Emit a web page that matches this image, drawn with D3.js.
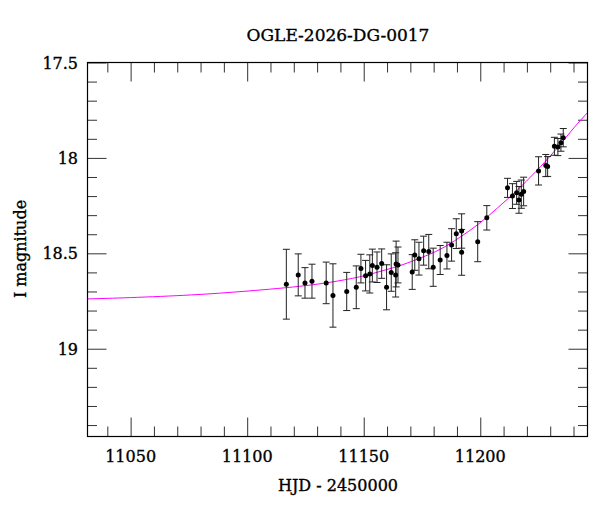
<!DOCTYPE html>
<html>
<head>
<meta charset="utf-8">
<script src="https://cdn.jsdelivr.net/npm/d3@7"></script>
<style>
  body { margin: 0; background: #fff; }
  svg { display: block; }
  text { font-family: "DejaVu Serif", "Liberation Serif", serif; fill: #000; stroke: #000; stroke-width: 0.35px; }
</style>
</head>
<body>
<svg id="chart" width="600" height="512"></svg>
<script>
// photometry points (HJD - 2450000, I mag, error)
const hjd = [11116.8, 11121.9, 11124.8, 11127.8, 11133.9, 11136.8, 11142.7, 11146.8, 11148.8, 11150.8,
  11152.6, 11153.7, 11155.7, 11157.7, 11159.8, 11161.8, 11163.7, 11163.9, 11164.7, 11170.8,
  11171.9, 11173.7, 11175.7, 11177.9, 11179.8, 11182.8, 11185.7, 11187.7, 11189.7, 11192.0,
  11192.0, 11198.9, 11202.8, 11211.7, 11213.8, 11215.6, 11216.6, 11217.6, 11218.6, 11225.0,
  11228.1, 11228.9, 11231.8, 11233.3, 11234.6, 11235.6];
const mag = [18.662, 18.613, 18.655, 18.646, 18.655, 18.721, 18.700, 18.678, 18.580, 18.617,
  18.608, 18.564, 18.573, 18.554, 18.678, 18.601, 18.613, 18.556, 18.561, 18.598,
  18.509, 18.528, 18.486, 18.491, 18.573, 18.535, 18.512, 18.456, 18.397, 18.383,
  18.495, 18.439, 18.314, 18.157, 18.200, 18.183, 18.220, 18.190, 18.176, 18.068,
  18.040, 18.045, 17.939, 17.943, 17.920, 17.894];
const magErr = [0.183, 0.110, 0.080, 0.089, 0.109, 0.166, 0.100, 0.112, 0.075, 0.080,
  0.100, 0.086, 0.080, 0.077, 0.118, 0.098, 0.116, 0.120, 0.094, 0.091,
  0.080, 0.086, 0.076, 0.090, 0.100, 0.076, 0.070, 0.085, 0.078, 0.090,
  0.120, 0.105, 0.064, 0.050, 0.065, 0.060, 0.070, 0.074, 0.075, 0.074,
  0.058, 0.052, 0.047, 0.045, 0.045, 0.048];

// model light curve, sampled off the magenta line
const modelHjd = [11031.5, 11050, 11076.1, 11099.9, 11125.3, 11141.7, 11150, 11158.2, 11166.4, 11174.6,
  11182.8, 11191, 11199.2, 11207.4, 11215.6, 11223.8, 11232, 11240.2, 11246];
const modelMag = [18.739, 18.732, 18.718, 18.698, 18.669, 18.639, 18.618, 18.591, 18.561, 18.523,
  18.479, 18.418, 18.347, 18.262, 18.172, 18.072, 17.962, 17.842, 17.763];

const xMajor = [11050, 11100, 11150, 11200];
const xLabels = ["11050", "11100", "11150", "11200"];
const yMajor = [17.5, 18, 18.5, 19];
const yLabels = ["17.5", "18", "18.5", "19"];
const title = "OGLE-2026-DG-0017";

const svg = d3.select("#chart");
const pLeft = 87.5, pRight = 587.5, pTop = 62.5, pBottom = 436.5;

const x = d3.scaleLinear().domain([11031.5, 11246]).range([pLeft, pRight]);
const y = d3.scaleLinear().domain([17.5, 19.46]).range([pTop, pBottom]); // magnitudes go down

const xMinor = d3.range(11040, 11246, 10).filter(v => !xMajor.includes(v));
const yMinor = d3.range(17.6, 19.46, 0.1).map(v => +v.toFixed(1)).filter(v => !yMajor.includes(v));

// ticks pointing inward on all four sides
function tickSet(axisFn, scale, vals, size, tr) {
  const g = svg.append("g")
    .attr("transform", tr)
    .call(axisFn(scale).tickValues(vals).tickSize(size).tickFormat(""));
  g.select(".domain").remove();
  g.selectAll("line").attr("stroke", "#333").attr("stroke-width", 1);
  return g;
}
tickSet(d3.axisBottom, x, xMajor, -19, `translate(0,${pBottom})`);
tickSet(d3.axisBottom, x, xMinor, -10, `translate(0,${pBottom})`);
tickSet(d3.axisTop, x, xMajor, -19, `translate(0,${pTop})`);
tickSet(d3.axisTop, x, xMinor, -10, `translate(0,${pTop})`);
tickSet(d3.axisLeft, y, yMajor, -19, `translate(${pLeft},0)`);
tickSet(d3.axisLeft, y, yMinor, -9.5, `translate(${pLeft},0)`);
tickSet(d3.axisRight, y, yMajor, -19, `translate(${pRight},0)`);
tickSet(d3.axisRight, y, yMinor, -9.5, `translate(${pRight},0)`);

// labels
svg.append("g").selectAll("text")
  .data(xMajor)
  .enter().append("text")
  .attr("x", d => x(d))
  .attr("y", 462)
  .attr("text-anchor", "middle")
  .style("font-size", "16px")
  .text((d, i) => xLabels[i]);

svg.append("g").selectAll("text")
  .data(yMajor)
  .enter().append("text")
  .attr("x", 78)
  .attr("y", d => y(d) + 6)
  .attr("text-anchor", "end")
  .style("font-size", "16px")
  .text((d, i) => yLabels[i]);

svg.append("text")
  .attr("x", 338).attr("y", 41)
  .attr("text-anchor", "middle")
  .style("font-size", "17px")
  .text(title);

svg.append("text")
  .attr("x", 338).attr("y", 491)
  .attr("text-anchor", "middle")
  .style("font-size", "16px")
  .text("HJD - 2450000");

svg.append("text")
  .attr("transform", "translate(26,249) rotate(-90)")
  .attr("text-anchor", "middle")
  .style("font-size", "16px")
  .text("I magnitude");

// model curve
svg.append("clipPath").attr("id", "plotclip")
  .append("rect").attr("x", pLeft).attr("y", pTop).attr("width", pRight - pLeft).attr("height", pBottom - pTop);

const line = d3.line()
  .x((d, i) => x(modelHjd[i]))
  .y(d => y(d))
  .curve(d3.curveNatural);

svg.append("path")
  .datum(modelMag)
  .attr("clip-path", "url(#plotclip)")
  .attr("d", line)
  .attr("fill", "none")
  .attr("stroke", "#ff00ff")
  .attr("stroke-width", 1);

// error bars with caps
const pts = hjd.map((t, i) => ({t: t, m: mag[i], e: magErr[i]}));
const eb = svg.append("g").attr("stroke", "#222").attr("stroke-width", 1);
eb.selectAll(".bar").data(pts).enter().append("line")
  .attr("x1", d => x(d.t)).attr("x2", d => x(d.t))
  .attr("y1", d => y(d.m - d.e)).attr("y2", d => y(d.m + d.e));
eb.selectAll(".capT").data(pts).enter().append("line")
  .attr("x1", d => x(d.t) - 3.5).attr("x2", d => x(d.t) + 3.5)
  .attr("y1", d => y(d.m - d.e)).attr("y2", d => y(d.m - d.e));
eb.selectAll(".capB").data(pts).enter().append("line")
  .attr("x1", d => x(d.t) - 3.5).attr("x2", d => x(d.t) + 3.5)
  .attr("y1", d => y(d.m + d.e)).attr("y2", d => y(d.m + d.e));

svg.append("g").selectAll("circle")
  .data(pts)
  .enter().append("circle")
  .attr("cx", d => x(d.t))
  .attr("cy", d => y(d.m))
  .attr("r", 2.5)
  .attr("fill", "#000");

// frame
svg.append("rect")
  .attr("x", pLeft).attr("y", pTop)
  .attr("width", pRight - pLeft).attr("height", pBottom - pTop)
  .attr("fill", "none")
  .attr("stroke", "#000")
  .attr("stroke-width", 1.2);
</script>
</body>
</html>
